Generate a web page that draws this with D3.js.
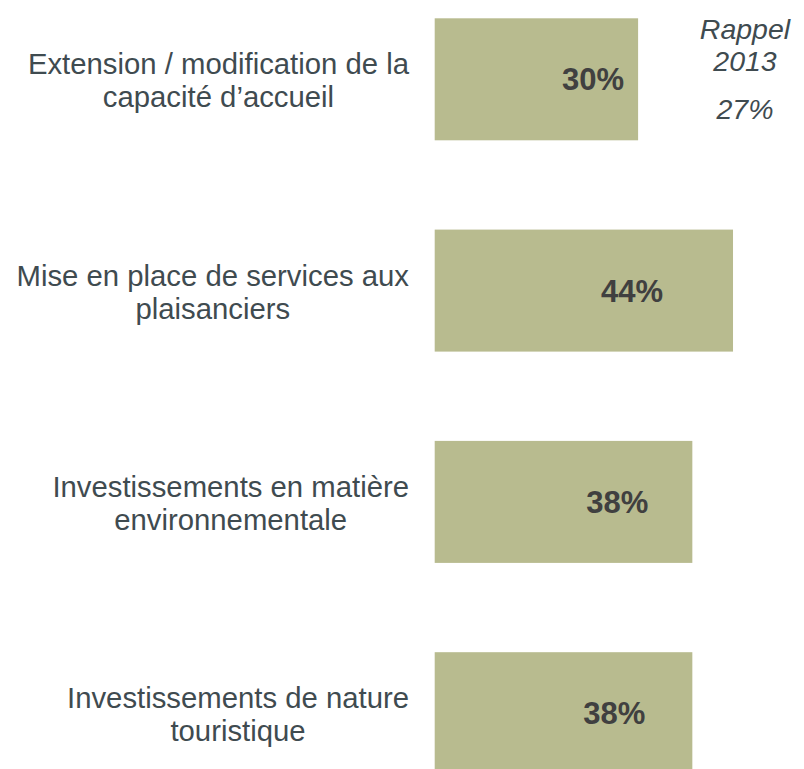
<!DOCTYPE html>
<html>
<head>
<meta charset="utf-8">
<script src="https://cdn.jsdelivr.net/npm/d3@7"></script>
<style>
  html, body { margin: 0; padding: 0; background: #ffffff; }
  svg { display: block; }
</style>
</head>
<body>
<svg id="chart" width="804" height="769"></svg>
<script>
// Projects planned by the ports, share of respondents (%)
const categories = [
  "Extension / modification de la capacité d’accueil",
  "Mise en place de services aux plaisanciers",
  "Investissements en matière environnementale",
  "Investissements de nature touristique"
];
// Category labels split into the two lines they are shown on
const categoryLines = [
  ["Extension / modification de la", "capacité d’accueil"],
  ["Mise en place de services aux", "plaisanciers"],
  ["Investissements en matière", "environnementale"],
  ["Investissements de nature", "touristique"]
];
const values = [30, 44, 38, 38];
const recallTitle = ["Rappel", "2013"];
const recallValue = [27];

// Layout
const barLeft = 434.7;
const pxPerPoint = 6.78;
const labelRight = 409;
const valueLabelInset = [45, 101, 75, 78];
const textColor = "#3f4b50";
const valueColor = "#404040";
const barColor = "#b8bb8f";
const fontFamily = "'Liberation Sans', Arial, Helvetica, sans-serif";

const svg = d3.select("#chart");

const x = d3.scaleLinear()
  .domain([0, 100])
  .range([barLeft, barLeft + 100 * pxPerPoint]);

const y = d3.scaleBand()
  .domain(categories)
  .range([18.3, 774.2])
  .paddingInner(0.4226)
  .paddingOuter(0);

// Bars
svg.append("g")
  .selectAll("rect")
  .data(values)
  .join("rect")
  .attr("x", x(0))
  .attr("y", (d, i) => y(categories[i]))
  .attr("width", d => x(d) - x(0))
  .attr("height", y.bandwidth())
  .attr("fill", barColor);

// Value labels inside the bars
svg.append("g")
  .selectAll("text")
  .data(values)
  .join("text")
  .attr("x", (d, i) => x(d) - valueLabelInset[i])
  .attr("y", (d, i) => y(categories[i]) + y.bandwidth() / 2)
  .attr("dy", "0.36em")
  .attr("text-anchor", "middle")
  .attr("font-family", fontFamily)
  .attr("font-weight", "bold")
  .attr("font-size", 31)
  .attr("fill", valueColor)
  .text(d => d + "%");

// Category labels: a two-line block centred on its first line, right edge fixed
const lineGap = 33;
const catGroups = svg.append("g")
  .selectAll("g")
  .data(categoryLines)
  .join("g");

catGroups.each(function(lines, i) {
  const g = d3.select(this);
  const cy = y(categories[i]) + y.bandwidth() / 2 + 1;
  const t = g.append("text")
    .attr("font-family", fontFamily)
    .attr("font-size", 29.3)
    .attr("fill", textColor)
    .attr("text-anchor", "middle");
  lines.forEach((line, k) => {
    t.append("tspan")
      .attr("x", 0)
      .attr("y", cy + (k - (lines.length - 1) / 2) * lineGap)
      .attr("dy", "0.36em")
      .text(line);
  });
  const first = t.select("tspan").node();
  const w = first.getComputedTextLength();
  t.selectAll("tspan").attr("x", labelRight - w / 2);
});

// Recall of the 2013 figure
const recallX = 745;
const recall = svg.append("g")
  .attr("font-family", fontFamily)
  .attr("font-style", "italic")
  .attr("font-size", 28.5)
  .attr("fill", textColor)
  .attr("text-anchor", "middle");

recall.selectAll("text.title")
  .data(recallTitle)
  .join("text")
  .attr("class", "title")
  .attr("x", recallX)
  .attr("y", (d, i) => 39 + i * 32)
  .text(d => d);

recall.selectAll("text.value")
  .data(recallValue)
  .join("text")
  .attr("class", "value")
  .attr("x", recallX)
  .attr("y", 119)
  .text(d => d + "%");
</script>
</body>
</html>
